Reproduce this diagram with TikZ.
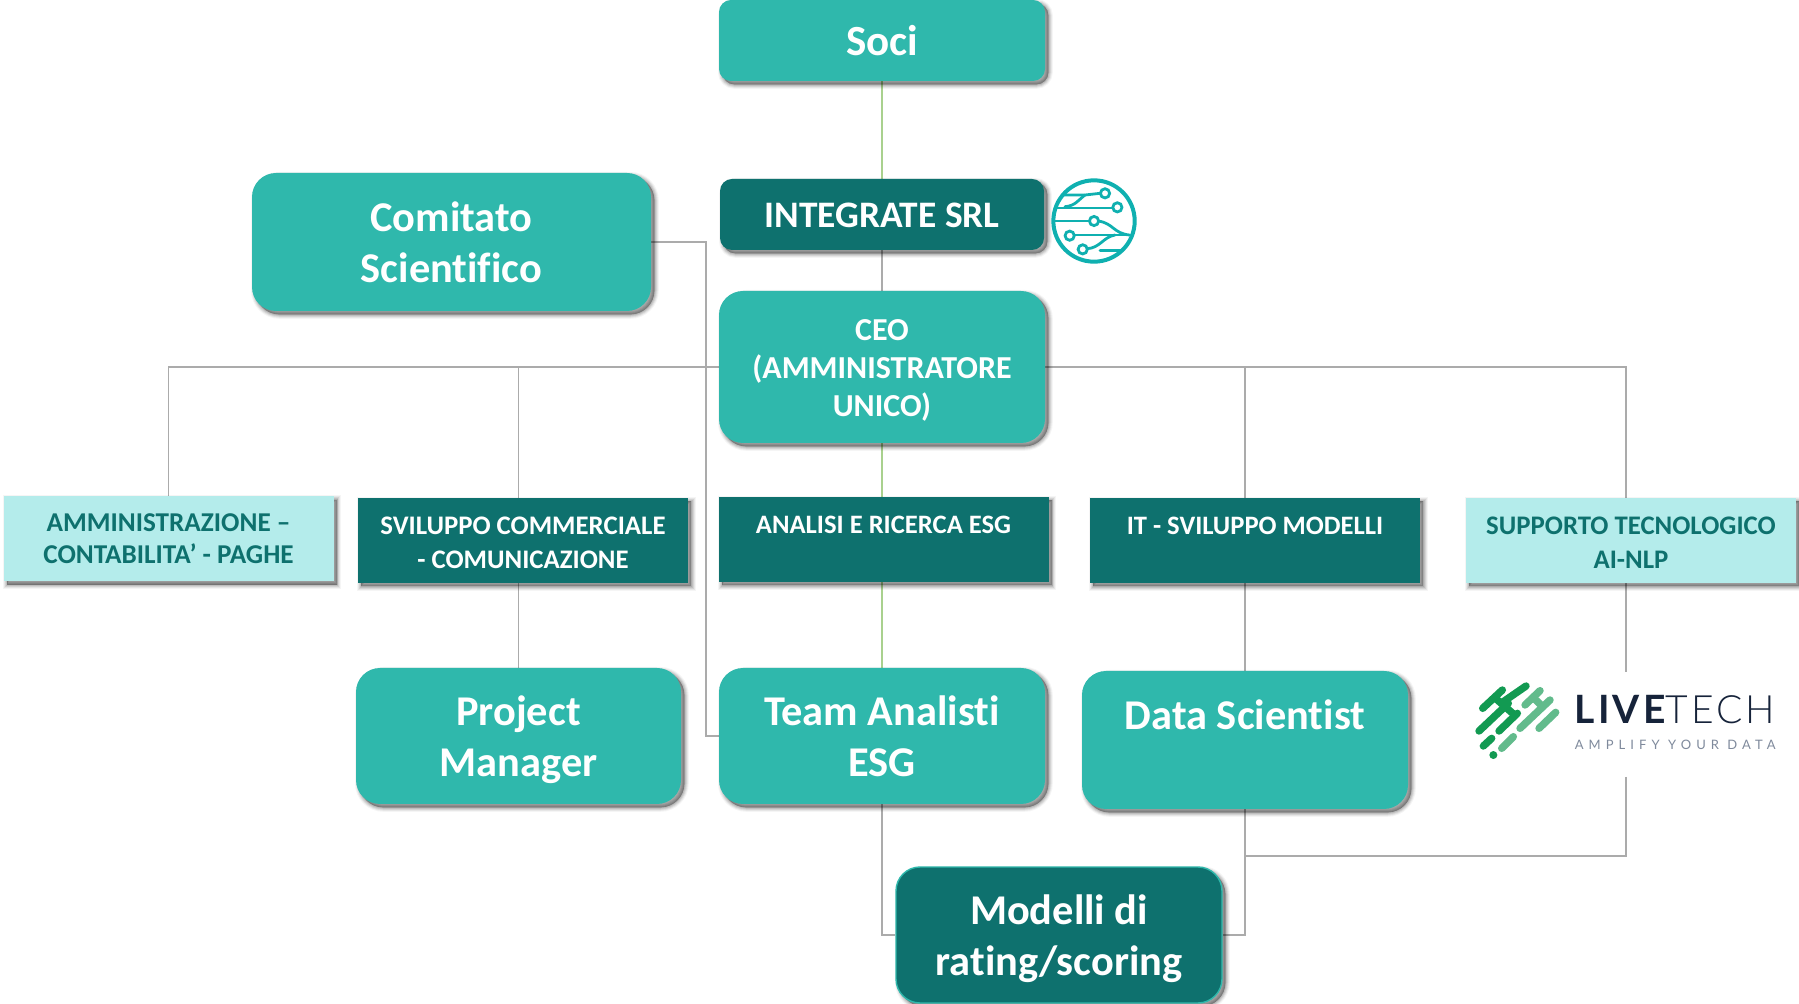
\documentclass[tikz,border=0pt]{standalone}
\usepackage{fontspec}
\setmainfont{Carlito}[Ligatures=NoCommon]
\newfontfamily\liveboldfont{Lato}[LetterSpace=8]
\newfontfamily\livelightfont{Lato Light}[LetterSpace=8]
\newfontfamily\livetagfont{Lato}[LetterSpace=39]
\usetikzlibrary{backgrounds}
\newcommand{\lnstrut}{\rule[-.18em]{0pt}{1.056em}}
\newcommand{\lnstrutlow}{\rule[-.12em]{0pt}{1.056em}}
\newcommand{\lnstrutmid}{\rule[-.206em]{0pt}{1.056em}}
\definecolor{tealbox}{HTML}{2FB8AC}
\definecolor{darkbox}{HTML}{0E716E}
\definecolor{lightbox}{HTML}{B4ECEB}
\definecolor{graylink}{HTML}{ABABAB}
\definecolor{greenlink}{HTML}{A9D18E}
\definecolor{iconteal}{HTML}{0FB0B0}
\definecolor{livedark}{HTML}{129A52}
\definecolor{livelight}{HTML}{62BB8C}
\definecolor{liveink}{HTML}{16233A}
\definecolor{livegray}{HTML}{7F8A9C}
\tikzset{
  softshadow/.style={
    preaction={fill=black,draw=black,line width=4.4pt,opacity=.04,transform canvas={shift={(1.7pt,-1.7pt)}}},
    preaction={fill=black,draw=black,line width=3.4pt,opacity=.06,transform canvas={shift={(1.7pt,-1.7pt)}}},
    preaction={fill=black,draw=black,line width=2.4pt,opacity=.08,transform canvas={shift={(1.7pt,-1.7pt)}}},
    preaction={fill=black,draw=black,line width=1.4pt,opacity=.09,transform canvas={shift={(1.7pt,-1.7pt)}}},
    preaction={fill=black,draw=black,line width=.4pt,opacity=.10,transform canvas={shift={(1.7pt,-1.7pt)}}}},
  orgbox/.style={softshadow,inner sep=0pt,align=center},
  bigbox/.style={orgbox,fill=tealbox,text=white,rounded corners=12pt,font=\fontsize{21.2}{25.5}\selectfont\bfseries},
  smallbox/.style={orgbox,minimum width=165pt,minimum height=42.5pt,font=\fontsize{13.4}{16.6}\selectfont\bfseries},
  darkfill/.style={smallbox,fill=darkbox,text=white},
  lightfill/.style={smallbox,fill=lightbox,text=darkbox},
  graywire/.style={draw=graylink,line width=.7pt},
  greenwire/.style={draw=greenlink,line width=.7pt},
  icontrace/.style={draw=iconteal,line width=1.4pt,line cap=round},
  icondot/.style={draw=iconteal,line width=1.4pt,fill=white,circle,minimum size=4.6pt,inner sep=0pt},
  livestroke/.style={line width=3.7pt,line cap=round},
}
\begin{document}
\begin{tikzpicture}[x=0.5pt,y=-0.5pt]
\useasboundingbox (0,0) rectangle (1799,1004);

% big boxes
\node[bigbox,rounded corners=6pt,minimum width=163pt,minimum height=40.5pt,font=\fontsize{21.5}{25.5}\selectfont\bfseries] (soci) at (882,40.5) {\lnstrut Soci};
\node[bigbox,minimum width=199.5pt,minimum height=69pt] (comitato) at (451.5,242) {\lnstrut Comitato\\\lnstrut Scientifico};
\node[orgbox,fill=darkbox,text=white,rounded corners=6pt,minimum width=162pt,minimum height=35.5pt,font=\fontsize{18.7}{22}\selectfont\bfseries] (integrate) at (882,214.5) {\lnstrut INTEGRATE SRL};
\node[bigbox,minimum width=163pt,minimum height=76pt,font=\fontsize{16}{19}\selectfont\bfseries] (ceo) at (882,367) {\lnstrut CEO\\\lnstrut (AMMINISTRATORE\\\lnstrut UNICO)};

% row of departments
\node[lightfill,font=\fontsize{13.6}{16.2}\selectfont\bfseries] (amm) at (168.5,539) {\lnstrutmid AMMINISTRAZIONE –\\\lnstrutmid CONTABILITA’ - PAGHE};
\node[darkfill] (svil) at (523,540.5) {\lnstrutlow SVILUPPO COMMERCIALE\\\lnstrutlow - COMUNICAZIONE};
\node[darkfill,font=\fontsize{13.3}{16.6}\selectfont\bfseries] (ana) at (883.5,539.5) {\lnstrutlow ANALISI E RICERCA ESG\\\lnstrutlow};
\node[darkfill,font=\fontsize{13.3}{16.6}\selectfont\bfseries] (it) at (1255,540.5) {\lnstrutlow IT - SVILUPPO MODELLI\\\lnstrutlow};
\node[lightfill] (sup) at (1631,540.5) {\lnstrutlow SUPPORTO TECNOLOGICO\\\lnstrutlow AI-NLP};

% lower boxes
\node[bigbox,minimum width=162.5pt,minimum height=68pt] (pm) at (518.5,736) {\lnstrut Project\\\lnstrut Manager};
\node[bigbox,minimum width=163pt,minimum height=68pt] (team) at (882,736) {\lnstrut Team Analisti\\\lnstrut ESG};
\node[bigbox,minimum width=163pt,minimum height=69pt] (data) at (1245,740) {\lnstrut Data Scientist\\\lnstrut};
\node[bigbox,fill=darkbox,draw=tealbox,line width=.7pt,minimum width=163pt,minimum height=68pt] (modelli) at (1059,935) {\lnstrut Modelli di\\\lnstrut rating/scoring};

\coordinate (livetop) at (1626,584);
\coordinate (livemid) at (1626,672);
\coordinate (livelow) at (1626,777);
\coordinate (datajoin) at (1245,856);
\coordinate (comijoin) at (706,736);

\begin{scope}[on background layer]
  \fill[white] (0,0) rectangle (1799,1004);
  \draw[greenwire] (soci) -- (integrate);
  \draw[graywire] (integrate) -- (ceo);
  \draw[graywire] (ceo.west) -| (amm.north);
  \draw[graywire] (ceo.west) -| (pm.north);
  \draw[graywire] (ceo.east) -| (data.north);
  \draw[graywire] (ceo.east) -| (livetop);
  \draw[graywire] (livetop) -- (livemid);
  \draw[graywire] (livelow) |- (datajoin);
  \draw[graywire] (comitato.east) -| (comijoin) -- (team.west);
  \draw[greenwire] (ceo) -- (team);
  \draw[graywire] (team.south) |- (modelli.west);
  \draw[graywire] (data.south) |- (modelli.east);
\end{scope}

% network globe icon
\begin{scope}[shift={(1000,150)},x=0.1667pt,y=-0.1667pt]
  \draw[iconteal,line width=2pt] (282,213) circle[radius=122];
  \draw[icontrace] (192,135) -- (255,135) -- (300,130);
  \draw[icontrace] (195,170) .. controls (225,168) and (235,150) .. (255,135);
  \draw[icontrace] (168,174) -- (345,174);
  \draw[icontrace] (165,213) -- (270,213);
  \draw[icontrace] (295,213) .. controls (340,220) and (340,250) .. (388,255);
  \draw[icontrace] (215,255) -- (388,255);
  \draw[icontrace] (260,296) .. controls (300,295) and (310,260) .. (345,255);
  \draw[icontrace] (300,302) -- (362,302);
  \node[icondot] at (315,130) {};
  \node[icondot] at (352,172) {};
  \node[icondot] at (282,213) {};
  \node[icondot] at (209,257) {};
  \node[icondot] at (248,298) {};
\end{scope}

% Livetech logo
\begin{scope}[shift={(1440,660)},x=0.1667pt,y=-0.1667pt]
  \draw[livestroke,livelight] (255,135) -- (300,92);
  \draw[livestroke,livelight] (240,205) -- (330,120);
  \draw[livestroke,livelight] (297,205) -- (347,157);
  \draw[livestroke,livelight] (185,265) -- (220,230);
  \draw[livestroke,livelight] (285,118) -- (308,140);
  \draw[livestroke,livedark] (128,145) -- (187,90);
  \draw[livestroke,livedark] (190,125) -- (258,78);
  \draw[livestroke,livedark] (117,213) -- (205,130);
  \draw[livestroke,livedark] (177,213) -- (232,160);
  \draw[livestroke,livedark] (170,118) -- (218,160);
  \draw[livestroke,livedark] (130,258) -- (155,235);
  \fill[livedark] (160,285) circle[radius=12];
  \node[anchor=base west,inner sep=0pt,text=liveink,font=\fontsize{19.5}{20}\selectfont] (livename) at (403,190)
    {{\liveboldfont\bfseries LIVE}{\livelightfont TECH}};
  \node[anchor=base west,inner sep=0pt,text=livegray,font=\fontsize{6.5}{8}\selectfont] (livetag) at (403,268)
    {\livetagfont AMPLIFY YOUR DATA};
\end{scope}
\end{tikzpicture}
\end{document}
